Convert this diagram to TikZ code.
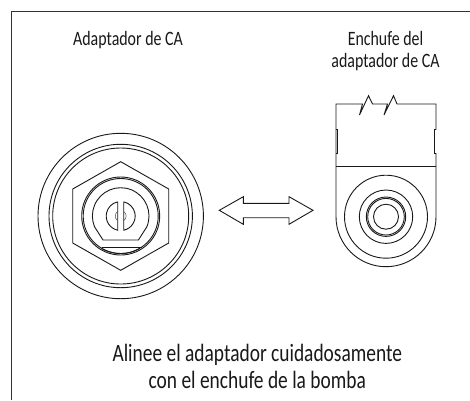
\documentclass[tikz,border=0pt]{standalone}
\usepackage{fontspec}
\setmainfont{Carlito}[FakeStretch=0.78]
\tikzset{
  ink/.style={draw=black!90, line width=0.9pt, line join=miter},
  thin ink/.style={draw=black!70, line width=0.5pt},
  frame line/.style={draw=black!80, line width=1.2pt},
  small label/.style={text=black!90, font=\fontsize{20.4}{22.5}\selectfont, align=center, inner sep=0pt},
  big label/.style={text=black!90, font=\fontsize{24.9}{27}\selectfont, align=center, inner sep=0pt}
}
\begin{document}
\begin{tikzpicture}[x=1pt,y=-1pt]
\useasboundingbox (0,0) rectangle (470,400);
\fill[white] (0,0) rectangle (470,400);
% frame
\draw[frame line] (470,11.5) -- (11.5,11.5) -- (11.5,400);
% left: adapter
\begin{scope}[shift={(120.7,216)}]
  \foreach \r in {82.7,71.7,68,39,37.5}
    \draw[ink] (0,0) circle[radius=\r];
  \draw[ink] (0,-54.3) -- (48,-27) -- (48,27) -- (0,54.3) -- (-48,27) -- (-48,-27) -- cycle;
  % inner keyed shape
  \draw[ink] (-17.7,24) -- (17.7,24) -- (26.2,10.7)
     arc[start angle=22.2, end angle=-202.2, radius=28.3] -- cycle;
  % bottom key
  \draw[ink] (-19,31.5) -- (21,31.5);
  \draw[ink] (-19,32.5) arc[start angle=120, end angle=60, radius=38];
  % D shapes
  \draw[ink] (-3,-14.2) -- (-3,14.2) arc[start angle=102, end angle=258, radius=14.5] -- cycle;
  \draw[ink] (3,-14.2) -- (3,14.2) arc[start angle=78, end angle=-78, radius=14.5] -- cycle;
  \draw[thin ink] (-3,-4.5) arc[start angle=-123, end angle=-237, radius=5.4];
  \draw[thin ink] (3,-4.5) arc[start angle=-57, end angle=57, radius=5.4];
\end{scope}
% arrow
\draw[ink] (219.3,210.3) -- (243.3,196.7) -- (243.3,203.3) -- (289,203.3) -- (289,196.7) -- (313,210.3)
  -- (289,224.3) -- (289,217.7) -- (243.3,217.7) -- (243.3,224.3) -- cycle;
% right: plug
\draw[ink] (336,166) -- (336,104) -- (362.5,104) -- (359.5,115) -- (368.5,95.7) -- (372.5,104) -- (387.5,104)
  -- (384,115) -- (393.5,95.7) -- (397,104) -- (436,104) -- (436,129.5) -- (434.5,129.5) -- (434.5,153.5) -- (436,153.5) -- (436,166);
\draw[ink] (336,129.5) -- (337.5,129.5) -- (337.5,153.5) -- (336,153.5);
\draw[ink] (336,166) -- (436,166);
\draw[ink] (336,166) -- (336,216.7) arc[start angle=180, end angle=0, radius=50] -- (436,166);
\foreach \r in {41.5,26.7,19.7,18.3,12.5}
  \draw[ink] (386,216.7) circle[radius=\r];
% labels
\node[small label] (adapter) at (128,40) {Adaptador de CA};
\node[small label] (plug) at (385.5,51) {Enchufe del\\adaptador de CA};
\node[big label] (note) at (257.3,366.5) {Alinee el adaptador cuidadosamente\\con el enchufe de la bomba};
\end{tikzpicture}
\end{document}
